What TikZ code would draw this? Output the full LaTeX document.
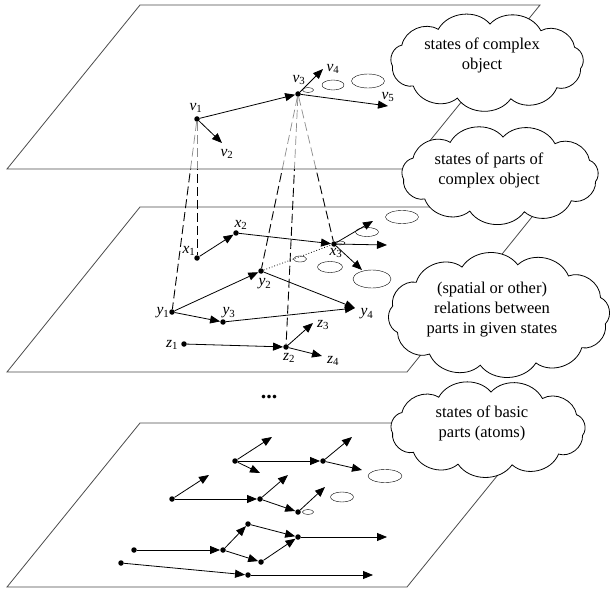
\documentclass[tikz,border=0pt]{standalone}
\usepackage{fontspec}
\setmainfont{Liberation Serif}
\usetikzlibrary{arrows.meta}
\newcommand{\nm}[2]{\textit{#1}\textsubscript{#2}}
% cloud: centre x, centre y, radius x, radius y, puffs
\newcommand{\puffcloud}[5]{%
  \begin{scope}[shift={(#1,#2)}]
    \filldraw[bubble] (10:#3 and #4)
      \foreach \i in {1,...,#5} { to[bend left=55] ({10+360*\i/#5}:#3 and #4) } -- cycle;
  \end{scope}}
\begin{document}
\begin{tikzpicture}[x=1pt,y=-1pt]
  \tikzset{plane/.style={draw=black!70,fill=white,line width=0.8pt},
    sdot/.style={circle,fill,inner sep=0pt,minimum size=5.5pt},
    arr/.style={-{Triangle[length=10pt,width=8pt]},line width=0.8pt},
    lbl/.style={inner sep=0pt,font=\fontsize{15.5}{18}\selectfont},
    proj/.style={line width=0.9pt,dash pattern=on 9pt off 4pt},
    bubble/.style={draw=black,fill=white,line width=0.8pt},
    note/.style={align=center,inner sep=0pt,font=\fontsize{16.5}{20}\selectfont}}
  \useasboundingbox (0,0) rectangle (611,591);

  % planes
  \draw[plane] (140,5) -- (540,5) -- (407,169) -- (7,169) -- cycle;
  \draw[plane] (140,207) -- (540,207) -- (407,372) -- (7,372) -- cycle;
  \draw[plane] (140,423) -- (540,423) -- (407,587) -- (7,587) -- cycle;

  % complex object
  \node[sdot] (v1) at (197,119) {};
  \node[sdot] (v3) at (298,94) {};
  \coordinate (v2) at (222,143);
  \coordinate (v4) at (323,69);
  \coordinate (v5) at (388,106);
  \node[lbl] (lv1) at (196,108) {\nm{v}{1}};
  \node[lbl] (lv2) at (227,154) {\nm{v}{2}};
  \node[lbl] (lv3) at (299,80) {\nm{v}{3}};
  \node[lbl] (lv4) at (333,69) {\nm{v}{4}};
  \node[lbl] (lv5) at (388,97) {\nm{v}{5}};
  \draw[arr] (v1) -- (v3);
  \draw[arr] (v1) -- (v2);
  \draw[arr] (v3) -- (v4);
  \draw[arr] (v3) -- (v5);
  \draw (308,90) ellipse (5.5 and 2.5);
  \draw (333,85) ellipse (11 and 5);
  \draw (368,81) ellipse (16.5 and 7);

  % parts
  \node[sdot] (x1) at (197,258) {};
  \node[sdot] (x2) at (236,233) {};
  \node[sdot] (x3) at (334,244) {};
  \node[sdot] (y1) at (172,312) {};
  \node[sdot] (y2) at (261,271) {};
  \node[sdot] (y3) at (223,322) {};
  \coordinate (y4) at (355,308);
  \node[sdot] (z1) at (184,344) {};
  \node[sdot] (z2) at (286,347) {};
  \coordinate (z3) at (313,323);
  \coordinate (z4) at (322,356);
  \coordinate (x3a) at (387,245);
  \coordinate (x3b) at (373,221);
  \coordinate (x3c) at (362,270);
  \node[lbl] (lx1) at (189,251) {\nm{x}{1}};
  \node[lbl] (lx2) at (241,225) {\nm{x}{2}};
  \node[lbl] (lx3) at (336,253) {\nm{x}{3}};
  \node[lbl] (ly1) at (163,313) {\nm{y}{1}};
  \node[lbl] (ly2) at (265,284) {\nm{y}{2}};
  \node[lbl] (ly3) at (229,313) {\nm{y}{3}};
  \node[lbl] (ly4) at (367,314) {\nm{y}{4}};
  \node[lbl] (lz1) at (172,345) {\nm{z}{1}};
  \node[lbl] (lz2) at (289,358) {\nm{z}{2}};
  \node[lbl] (lz3) at (323,325) {\nm{z}{3}};
  \node[lbl] (lz4) at (333,361) {\nm{z}{4}};
  \draw[arr] (x1) -- (x2);
  \draw[arr] (x2) -- (x3);
  \draw[arr] (x3) -- (x3a);
  \draw[arr] (x3) -- (x3b);
  \draw[arr] (x3) -- (x3c);
  \draw[arr] (y1) -- (y2);
  \draw[arr] (y1) -- (y3);
  \draw[arr] (y3) -- (y4);
  \draw[arr] (y2) -- (y4);
  \draw[arr] (z1) -- (z2);
  \draw[arr] (z2) -- (z3);
  \draw[arr] (z2) -- (z4);
  \draw[dotted,line width=0.8pt] (y2) -- (x3);
  \draw (300,259) ellipse (6.5 and 3);
  \draw (340,243) ellipse (5 and 2);
  \draw (367,232) ellipse (11.5 and 4.5);
  \draw (330,267) ellipse (12.5 and 5.5);
  \draw (372,279) ellipse (19 and 9);
  \draw (402,217) ellipse (16.5 and 6.5);

  % projections
  \begin{scope}
    \clip (0,169) rectangle (611,591);
    \foreach \a/\b in {v1/x1,v1/y1,v3/y2,v3/z2,v3/x3}
      \draw[proj] (\a) -- (\b);
  \end{scope}
  \begin{scope}
    \clip (0,0) rectangle (611,169);
    \foreach \a/\b in {v1/x1,v1/y1,v3/y2,v3/z2,v3/x3}
      \draw[proj,black!45,line width=0.7pt] (\a) -- (\b);
  \end{scope}

  \node[font=\bfseries\fontsize{22}{24}\selectfont,inner sep=0pt] (more) at (269,397) {...};

  % basic parts
  \node[sdot] (a1) at (235,461) {};
  \node[sdot] (a2) at (323,461) {};
  \node[sdot] (b1) at (172,499) {};
  \node[sdot] (b2) at (260,499) {};
  \node[sdot] (b3) at (298,512) {};
  \node[sdot] (c1) at (134,550) {};
  \node[sdot] (c2) at (223,550) {};
  \node[sdot] (c3) at (248,524) {};
  \node[sdot] (c4) at (261,562) {};
  \node[sdot] (c5) at (298,537) {};
  \node[sdot] (d1) at (121,563) {};
  \node[sdot] (d2) at (248,575) {};
  \coordinate (a1a) at (272,437);
  \coordinate (a1b) at (260,473);
  \coordinate (a2a) at (352,437);
  \coordinate (a2b) at (362,470);
  \coordinate (b1a) at (209,475);
  \coordinate (b2a) at (288,475);
  \coordinate (b3a) at (325,487);
  \coordinate (c5a) at (387,537);
  \coordinate (d2a) at (373,575);
  \draw[arr] (a1) -- (a1a);
  \draw[arr] (a1) -- (a1b);
  \draw[arr] (a1) -- (a2);
  \draw[arr] (a2) -- (a2a);
  \draw[arr] (a2) -- (a2b);
  \draw[arr] (b1) -- (b1a);
  \draw[arr] (b1) -- (b2);
  \draw[arr] (b2) -- (b2a);
  \draw[arr] (b2) -- (b3);
  \draw[arr] (b3) -- (b3a);
  \draw[arr] (c1) -- (c2);
  \draw[arr] (c2) -- (c3);
  \draw[arr] (c2) -- (c4);
  \draw[arr] (c3) -- (c5);
  \draw[arr] (c4) -- (c5);
  \draw[arr] (c5) -- (c5a);
  \draw[arr] (d1) -- (d2);
  \draw[arr] (d2) -- (d2a);
  \draw (385,476) ellipse (17 and 6.5);
  \draw (342,497) ellipse (11.5 and 5);
  \draw (308,512) ellipse (5.5 and 2.5);

  % clouds
  \puffcloud{487}{62}{95}{38}{11}
  \node[note] (t1) at (482,55) {states of complex\\object};
  \puffcloud{500}{175}{97}{38}{11}
  \node[note] (t2) at (489,170) {states of parts of\\complex object};
  \puffcloud{499}{315}{108}{51}{12}
  \node[note] (t3) at (492,310) {(spatial or other)\\relations between\\parts in given states};
  \puffcloud{488}{429}{96}{37}{11}
  \node[note] (t4) at (482,423) {states of basic\\parts (atoms)};
\end{tikzpicture}
\end{document}
